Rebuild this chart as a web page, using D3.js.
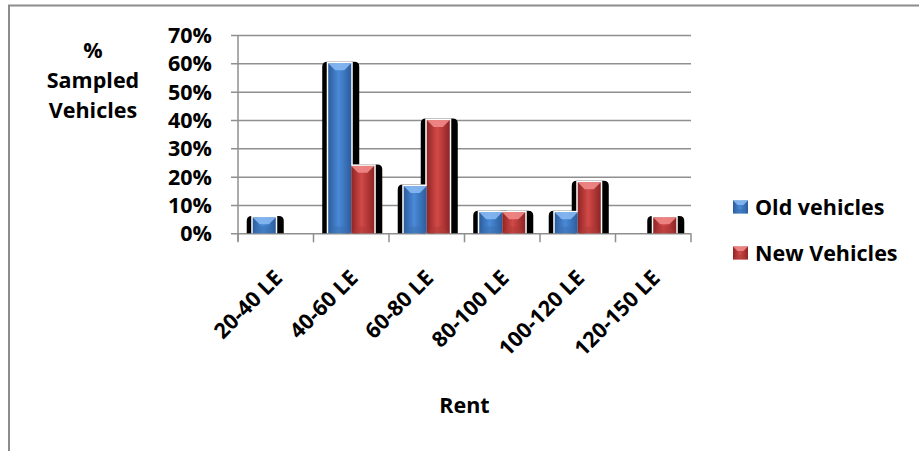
<!DOCTYPE html>
<html><head><meta charset="utf-8">
<script src="https://cdn.jsdelivr.net/npm/d3@7"></script>
<style>
html,body{margin:0;padding:0;background:#fff;}
svg text{font-family:"Open Sans","Lato",sans-serif;font-weight:bold;fill:#000;}
</style></head>
<body>
<svg id="chart" width="919" height="451"></svg>
<script>
const categories = ["20-40 LE","40-60 LE","60-80 LE","80-100 LE","100-120 LE","120-150 LE"];
const seriesNames = ["Old vehicles","New Vehicles"];
const oldValues = [0.056, 0.60, 0.167, 0.074, 0.074, 0];
const newValues = [0, 0.238, 0.40, 0.074, 0.18, 0.056];
const yTicks = [0,0.1,0.2,0.3,0.4,0.5,0.6,0.7];
const seriesValues = [oldValues, newValues];

(function(){
const FS = 21.5;
const svg = d3.select("#chart");
const defs = svg.append("defs");
const palettes = [
  {id:"gBlue", edge:"#2b5c9c", mid:"#4a8ad8", top:"#86b8f2", bot:"#3a6fb0"},
  {id:"gRed", edge:"#8e2424", mid:"#d24a48", top:"#f08a88", bot:"#b03a38"}
];
palettes.forEach(p=>{
  const g = defs.append("linearGradient").attr("id",p.id).attr("x1","0").attr("x2","1").attr("y1","0").attr("y2","0");
  g.append("stop").attr("offset","0").attr("stop-color",p.edge);
  g.append("stop").attr("offset","0.45").attr("stop-color",p.mid);
  g.append("stop").attr("offset","1").attr("stop-color",p.edge);
});

// frame
svg.append("rect").attr("x",9).attr("y",5.5).attr("width",960).attr("height",500)
  .attr("fill","none").attr("stroke","#8c8c8c").attr("stroke-width",2);

const pLeft = 238, pRight = 691, pTop = 35, pBottom = 233.3;
const x0 = d3.scaleBand().domain(categories).range([pLeft,pRight]).paddingInner(0).paddingOuter(0);
const x1 = d3.scaleBand().domain(seriesNames).range([0,x0.bandwidth()]).paddingInner(0).paddingOuter(0.64);
const y = d3.scaleLinear().domain([0,0.7]).range([pBottom,pTop]);

// gridlines + y axis
const yAxis = d3.axisLeft(y).tickValues(yTicks).tickFormat(d3.format(".0%")).tickSize(-(pRight-pLeft)).tickSizeOuter(0).tickPadding(0);
const ga = svg.append("g").attr("transform",`translate(${pLeft},0)`).call(yAxis);
ga.select(".domain").remove();
ga.selectAll(".tick line").attr("stroke","#8f8f8f").attr("stroke-width",1.5).attr("x1",-7);
ga.selectAll(".tick text").attr("x",-26).attr("font-size",FS).attr("dy","0.35em");
svg.append("line").attr("x1",pLeft).attr("x2",pLeft).attr("y1",pTop).attr("y2",pBottom+8)
  .attr("stroke","#8f8f8f").attr("stroke-width",1.5);

// x axis ticks
const bounds = categories.map(c=>x0(c)).concat([pRight]);
svg.append("g").selectAll("line").data(bounds).join("line")
  .attr("x1",d=>d).attr("x2",d=>d).attr("y1",pBottom).attr("y2",pBottom+9)
  .attr("stroke","#8f8f8f").attr("stroke-width",1.5);

// bars data
const bars = [];
categories.forEach((c,i)=>{
  seriesValues.forEach((vals,s)=>{
    if(vals[i]>0) bars.push({c, s, v:vals[i]});
  });
});
const bx = d=>x0(d.c)+x1(seriesNames[d.s]);
const bw = x1.bandwidth();

// shadows
svg.append("g").selectAll("path").data(bars).join("path")
  .attr("fill","#000")
  .attr("d",d=>{
    const xl=bx(d)-6, xr=bx(d)+bw+8, yt=y(d.v)-1.5, yb=pBottom, r=5;
    return `M${xl},${yb} L${xl},${yt+r} Q${xl},${yt} ${xl+r},${yt} L${xr-r},${yt} Q${xr},${yt} ${xr},${yt+r} L${xr},${yb} Z`;
  });
// white outline
svg.append("g").selectAll("rect").data(bars).join("rect")
  .attr("x",d=>bx(d)-1.5).attr("y",d=>y(d.v)-1.5).attr("width",bw+3).attr("height",d=>pBottom-y(d.v)+1.5)
  .attr("fill","#fff");

function drawBevel(g, xx, yy, w, h, p){
  g.append("rect").attr("x",xx).attr("y",yy).attr("width",w).attr("height",h).attr("fill",`url(#${p.id})`);
  const t = Math.min(w*0.3, h/2);
  g.append("path").attr("d",`M${xx},${yy} L${xx+w},${yy} L${xx+w-t},${yy+t} L${xx+t},${yy+t} Z`).attr("fill",p.top).attr("opacity",0.9);
  g.append("path").attr("d",`M${xx},${yy+h} L${xx+w},${yy+h} L${xx+w-t},${yy+h-t} L${xx+t},${yy+h-t} Z`).attr("fill",p.bot).attr("opacity",0.5);
}
const gb = svg.append("g");
bars.forEach(d=>{
  drawBevel(gb, bx(d), y(d.v), bw, pBottom-y(d.v), palettes[d.s]);
});

// x labels
svg.append("g").selectAll("text").data(categories).join("text")
  .attr("text-anchor","end").attr("font-size",FS)
  .attr("transform",d=>`translate(${x0(d)+x0.bandwidth()/2+8},${pBottom+46}) rotate(-45)`)
  .text(d=>d);

// axis titles
const yt = svg.append("text").attr("text-anchor","middle").attr("font-size",FS);
["%","Sampled","Vehicles"].forEach((t,i)=>{
  yt.append("tspan").attr("x",93).attr("y",58+i*30).text(t);
});
svg.append("text").attr("x",(pLeft+pRight)/2).attr("y",413).attr("text-anchor","middle").attr("font-size",FS).text("Rent");

// legend
const lg = svg.append("g");
seriesNames.forEach((n,i)=>{
  const yy = 200.5 + i*46;
  drawBevel(lg, 733, yy, 15, 13, palettes[i]);
  lg.append("text").attr("x",755).attr("y",yy+6.5).attr("dy","0.35em").attr("font-size",FS).text(n);
});
})();
</script>
</body></html>
